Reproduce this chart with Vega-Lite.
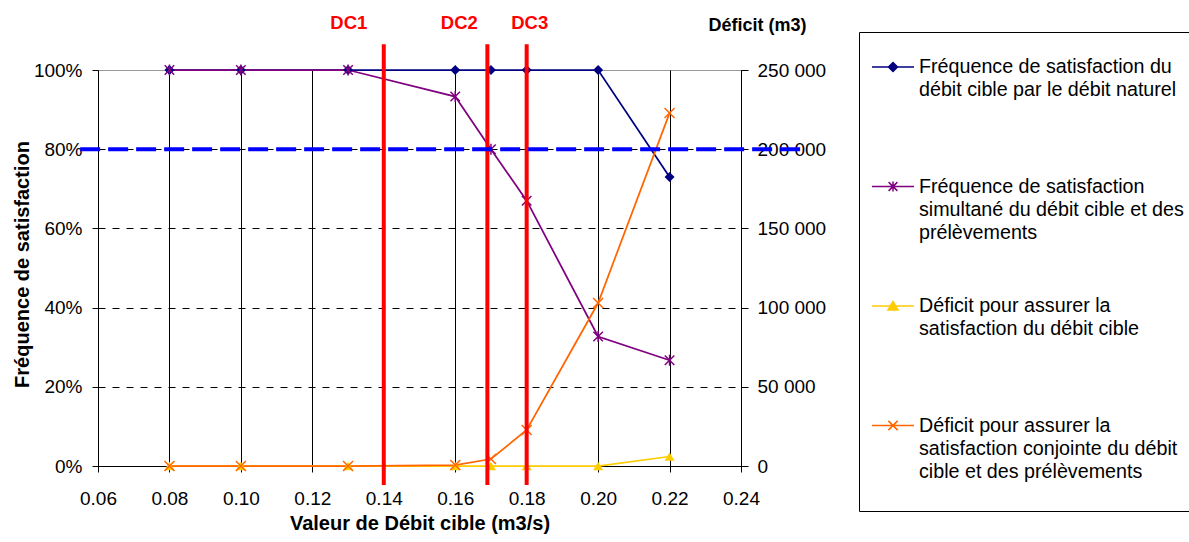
{
  "$schema": "https://vega.github.io/schema/vega-lite/v6.json",
  "autosize": {"type": "none"},
  "padding": {"left": 98, "top": 70, "right": 448, "bottom": 76},
  "width": 643,
  "height": 396,
  "background": "white",
  "config": {
    "font": "Liberation Sans",
    "view": {"stroke": "#999999", "strokeWidth": 1},
    "legend": {
      "orient": "none",
      "legendX": 761,
      "legendY": -38,
      "strokeColor": "black",
      "fillColor": "white",
      "padding": 12,
      "symbolSize": 1936,
      "symbolOffset": -1,
      "labelOffset": 3,
      "labelFont": "Liberation Sans",
      "labelFontSize": 19.7,
      "labelColor": "black",
      "labelLimit": 600,
      "gridAlign": "all",
      "rowPadding": 39.5,
      "symbolStrokeWidth": 1.5
    }
  },
  "datasets": {
    "series": [
      {"serie": "Fréquence de satisfaction du\ndébit cible par le débit naturel", "mesure": "freq", "debit": 0.08, "valeur": 1},
      {"serie": "Fréquence de satisfaction du\ndébit cible par le débit naturel", "mesure": "freq", "debit": 0.10, "valeur": 1},
      {"serie": "Fréquence de satisfaction du\ndébit cible par le débit naturel", "mesure": "freq", "debit": 0.13, "valeur": 1},
      {"serie": "Fréquence de satisfaction du\ndébit cible par le débit naturel", "mesure": "freq", "debit": 0.16, "valeur": 1},
      {"serie": "Fréquence de satisfaction du\ndébit cible par le débit naturel", "mesure": "freq", "debit": 0.17, "valeur": 1},
      {"serie": "Fréquence de satisfaction du\ndébit cible par le débit naturel", "mesure": "freq", "debit": 0.18, "valeur": 1},
      {"serie": "Fréquence de satisfaction du\ndébit cible par le débit naturel", "mesure": "freq", "debit": 0.20, "valeur": 1},
      {"serie": "Fréquence de satisfaction du\ndébit cible par le débit naturel", "mesure": "freq", "debit": 0.22, "valeur": 0.73},
      {"serie": "Fréquence de satisfaction\nsimultané du débit cible et des\nprélèvements", "mesure": "freq", "debit": 0.08, "valeur": 1},
      {"serie": "Fréquence de satisfaction\nsimultané du débit cible et des\nprélèvements", "mesure": "freq", "debit": 0.10, "valeur": 1},
      {"serie": "Fréquence de satisfaction\nsimultané du débit cible et des\nprélèvements", "mesure": "freq", "debit": 0.13, "valeur": 1},
      {"serie": "Fréquence de satisfaction\nsimultané du débit cible et des\nprélèvements", "mesure": "freq", "debit": 0.16, "valeur": 0.933},
      {"serie": "Fréquence de satisfaction\nsimultané du débit cible et des\nprélèvements", "mesure": "freq", "debit": 0.17, "valeur": 0.80},
      {"serie": "Fréquence de satisfaction\nsimultané du débit cible et des\nprélèvements", "mesure": "freq", "debit": 0.18, "valeur": 0.67},
      {"serie": "Fréquence de satisfaction\nsimultané du débit cible et des\nprélèvements", "mesure": "freq", "debit": 0.20, "valeur": 0.327},
      {"serie": "Fréquence de satisfaction\nsimultané du débit cible et des\nprélèvements", "mesure": "freq", "debit": 0.22, "valeur": 0.267},
      {"serie": "Déficit pour assurer la\nsatisfaction du débit cible", "mesure": "deficit", "debit": 0.08, "valeur": 0},
      {"serie": "Déficit pour assurer la\nsatisfaction du débit cible", "mesure": "deficit", "debit": 0.10, "valeur": 0},
      {"serie": "Déficit pour assurer la\nsatisfaction du débit cible", "mesure": "deficit", "debit": 0.13, "valeur": 0},
      {"serie": "Déficit pour assurer la\nsatisfaction du débit cible", "mesure": "deficit", "debit": 0.16, "valeur": 0},
      {"serie": "Déficit pour assurer la\nsatisfaction du débit cible", "mesure": "deficit", "debit": 0.17, "valeur": 0},
      {"serie": "Déficit pour assurer la\nsatisfaction du débit cible", "mesure": "deficit", "debit": 0.18, "valeur": 0},
      {"serie": "Déficit pour assurer la\nsatisfaction du débit cible", "mesure": "deficit", "debit": 0.20, "valeur": 0},
      {"serie": "Déficit pour assurer la\nsatisfaction du débit cible", "mesure": "deficit", "debit": 0.22, "valeur": 6000},
      {"serie": "Déficit pour assurer la\nsatisfaction conjointe du débit\ncible et des prélèvements", "mesure": "deficit", "debit": 0.08, "valeur": 0},
      {"serie": "Déficit pour assurer la\nsatisfaction conjointe du débit\ncible et des prélèvements", "mesure": "deficit", "debit": 0.10, "valeur": 0},
      {"serie": "Déficit pour assurer la\nsatisfaction conjointe du débit\ncible et des prélèvements", "mesure": "deficit", "debit": 0.13, "valeur": 0},
      {"serie": "Déficit pour assurer la\nsatisfaction conjointe du débit\ncible et des prélèvements", "mesure": "deficit", "debit": 0.16, "valeur": 600},
      {"serie": "Déficit pour assurer la\nsatisfaction conjointe du débit\ncible et des prélèvements", "mesure": "deficit", "debit": 0.17, "valeur": 4400},
      {"serie": "Déficit pour assurer la\nsatisfaction conjointe du débit\ncible et des prélèvements", "mesure": "deficit", "debit": 0.18, "valeur": 22700},
      {"serie": "Déficit pour assurer la\nsatisfaction conjointe du débit\ncible et des prélèvements", "mesure": "deficit", "debit": 0.20, "valeur": 102900},
      {"serie": "Déficit pour assurer la\nsatisfaction conjointe du débit\ncible et des prélèvements", "mesure": "deficit", "debit": 0.22, "valeur": 222800}
    ],
    "dc": [
      {"nom": "DC1", "debit": 0.14},
      {"nom": "DC2", "debit": 0.169},
      {"nom": "DC3", "debit": 0.18}
    ],
    "seuil": [{"frequence": 0.8}]
  },
  "layer": [
    {
      "data": {"name": "series"},
      "transform": [{"filter": "datum.mesure === 'freq'"}],
      "encoding": {
        "x": {
          "field": "debit", "type": "quantitative",
          "scale": {"domain": [0.06, 0.24], "nice": false, "zero": false},
          "axis": {
            "values": [0.06, 0.08, 0.10, 0.12, 0.14, 0.16, 0.18, 0.20, 0.22, 0.24],
            "format": ".2f",
            "labelFontSize": 19, "labelColor": "black", "labelPadding": 17,
            "labelFlush": false, "labelOverlap": false,
            "tickSize": 6, "tickColor": "black", "domainColor": "black",
            "grid": true, "gridColor": "black", "gridWidth": 1,
            "title": "Valeur de Débit cible (m3/s)",
            "titleFontSize": 20, "titleFontWeight": "bold", "titleColor": "black",
            "titleY": 63, "titleBaseline": "alphabetic"
          }
        },
        "y": {
          "field": "valeur", "type": "quantitative",
          "scale": {"domain": [0, 1], "nice": false},
          "axis": {
            "values": [0, 0.2, 0.4, 0.6, 0.8, 1],
            "format": ".0%",
            "labelFontSize": 19, "labelColor": "black", "labelPadding": 10,
            "tickSize": 6, "tickColor": "black", "domainColor": "black",
            "grid": true, "gridDash": [7, 7], "gridWidth": 1,
            "gridColor": {"condition": {"test": "datum.value === 1", "value": "#999999"}, "value": "black"},
            "title": "Fréquence de satisfaction",
            "titleFontSize": 20, "titleFontWeight": "bold", "titleColor": "black",
            "titleAngle": 270, "titleX": -70, "titleY": 194, "titleAlign": "center", "titleBaseline": "alphabetic"
          }
        },
        "color": {
          "field": "serie", "type": "nominal",
          "scale": {
            "domain": [
              "Fréquence de satisfaction du\ndébit cible par le débit naturel",
              "Fréquence de satisfaction\nsimultané du débit cible et des\nprélèvements",
              "Déficit pour assurer la\nsatisfaction du débit cible",
              "Déficit pour assurer la\nsatisfaction conjointe du débit\ncible et des prélèvements"
            ],
            "range": ["#000080", "#800080", "#FFCC00", "#FF6600"]
          },
          "legend": {
            "title": " ",
            "titleOrient": "bottom",
            "titleFontSize": 8,
            "titlePadding": 8.5,
            "labelExpr": "split(datum.label, '\\n')",
            "encoding": {
              "symbols": {
                "shape": {"value": {"expr": "['M-0.955,0L0.955,0M0,-0.205L0.205,0L0,0.205L-0.205,0Z', 'M-0.955,0L0.955,0M-0.2,-0.2L0.2,0.2M-0.2,0.2L0.2,-0.2M0,-0.23L0,0.23', 'M-0.955,0L0.955,0M0,-0.21L0.23,0.18L-0.23,0.18Z', 'M-0.955,0L0.955,0M-0.21,-0.21L0.21,0.21M-0.21,0.21L0.21,-0.21'][datum.index]"}},
                "strokeWidth": {"value": 1.5},
                "opacity": {"value": 1}
              },
              "labels": {"lineHeight": {"value": 23.4}}
            }
          }
        },
        "shape": {
          "field": "serie", "type": "nominal",
          "scale": {
            "domain": [
              "Déficit pour assurer la\nsatisfaction conjointe du débit\ncible et des prélèvements",
              "Déficit pour assurer la\nsatisfaction du débit cible",
              "Fréquence de satisfaction\nsimultané du débit cible et des\nprélèvements",
              "Fréquence de satisfaction du\ndébit cible par le débit naturel"
            ],
            "range": ["M-1,-1L1,1M-1,1L1,-1", "triangle-up", "M-1,-1L1,1M-1,1L1,-1M0,-1.15L0,1.15", "diamond"]
          },
          "legend": null
        }
      },
      "layer": [
        {"mark": {"type": "line", "strokeWidth": 1.75}, "encoding": {"shape": null}},
        {
          "transform": [{"filter": "indexof(datum.serie, 'naturel') >= 0"}],
          "mark": {"type": "point", "filled": true, "size": 100, "opacity": 1}
        },
        {
          "transform": [{"filter": "indexof(datum.serie, 'naturel') < 0"}],
          "mark": {"type": "point", "filled": false, "size": 90, "strokeWidth": 1.5, "opacity": 1}
        }
      ]
    },
    {
      "data": {"name": "series"},
      "transform": [{"filter": "datum.mesure === 'deficit'"}],
      "encoding": {
        "x": {"field": "debit", "type": "quantitative"},
        "y": {
          "field": "valeur", "type": "quantitative",
          "scale": {"domain": [0, 250000], "nice": false},
          "axis": {
            "orient": "right",
            "values": [0, 50000, 100000, 150000, 200000, 250000],
            "labelExpr": "replace(format(datum.value, ','), ',', ' ')",
            "labelFontSize": 19, "labelColor": "black", "labelPadding": 9,
            "tickSize": 7, "tickColor": "black", "domainColor": "black",
            "grid": false,
            "title": "Déficit (m3)",
            "titleFontSize": 18, "titleFontWeight": "bold", "titleColor": "black",
            "titleAngle": 0, "titleX": 16, "titleY": -39.3, "titleAlign": "center", "titleBaseline": "alphabetic"
          }
        },
        "color": {"field": "serie", "type": "nominal"},
        "shape": {"field": "serie", "type": "nominal", "legend": null}
      },
      "layer": [
        {"mark": {"type": "line", "strokeWidth": 1.75}, "encoding": {"shape": null}},
        {
          "transform": [{"filter": "indexof(datum.serie, 'conjointe') < 0"}],
          "mark": {"type": "point", "filled": true, "size": 100, "opacity": 1}
        },
        {
          "transform": [{"filter": "indexof(datum.serie, 'conjointe') >= 0"}],
          "mark": {"type": "point", "filled": false, "size": 100, "strokeWidth": 1.5, "opacity": 1}
        }
      ]
    },
    {
      "layer": [
        {
          "data": {"name": "dc"},
          "mark": {"type": "rule", "color": "#FF0000", "strokeWidth": 4, "clip": false},
          "encoding": {
            "x": {"field": "debit", "type": "quantitative"},
            "y": {"datum": 1.065, "type": "quantitative", "scale": {"domain": [0, 1], "nice": false}, "axis": null},
            "y2": {"datum": -0.048}
          }
        },
        {
          "data": {"name": "dc"},
          "transform": [{"filter": "datum.nom === 'DC1'"}],
          "mark": {"type": "text", "color": "#FF0000", "fontSize": 18.5, "fontWeight": "bold", "baseline": "alphabetic", "dx": -35, "clip": false},
          "encoding": {
            "x": {"field": "debit", "type": "quantitative"},
            "y": {"datum": 1.1028, "type": "quantitative"},
            "text": {"field": "nom"}
          }
        },
        {
          "data": {"name": "dc"},
          "transform": [{"filter": "datum.nom === 'DC2'"}],
          "mark": {"type": "text", "color": "#FF0000", "fontSize": 18.5, "fontWeight": "bold", "baseline": "alphabetic", "dx": -28, "clip": false},
          "encoding": {
            "x": {"field": "debit", "type": "quantitative"},
            "y": {"datum": 1.1028, "type": "quantitative"},
            "text": {"field": "nom"}
          }
        },
        {
          "data": {"name": "dc"},
          "transform": [{"filter": "datum.nom === 'DC3'"}],
          "mark": {"type": "text", "color": "#FF0000", "fontSize": 18.5, "fontWeight": "bold", "baseline": "alphabetic", "dx": 3, "clip": false},
          "encoding": {
            "x": {"field": "debit", "type": "quantitative"},
            "y": {"datum": 1.1028, "type": "quantitative"},
            "text": {"field": "nom"}
          }
        },
        {
          "data": {"name": "seuil"},
          "mark": {"type": "rule", "color": "#0000FF", "strokeWidth": 4, "strokeDash": [20, 8], "clip": false},
          "encoding": {
            "y": {"field": "frequence", "type": "quantitative"},
            "x": {"datum": 0.055, "type": "quantitative"},
            "x2": {"datum": 0.2588}
          }
        }
      ]
    }
  ],
  "resolve": {"scale": {"y": "independent"}}
}
